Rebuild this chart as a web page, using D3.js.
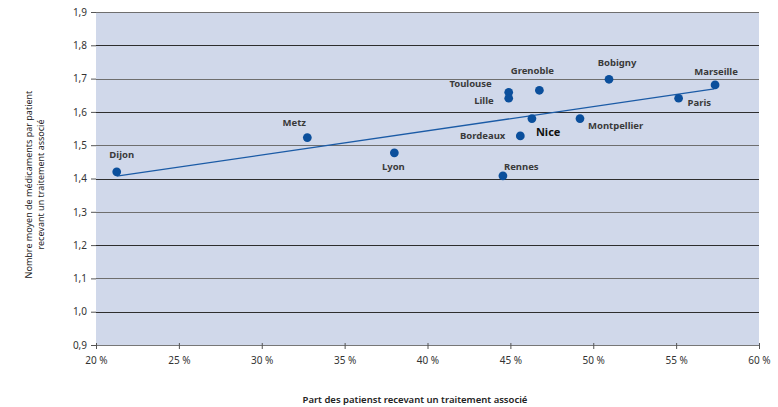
<!DOCTYPE html>
<html>
<head>
<meta charset="utf-8">
<script src="https://cdn.jsdelivr.net/npm/d3@7"></script>
<style>
  body { margin: 0; background: #fff; }
  text { font-family: "Noto Sans", sans-serif; }
</style>
</head>
<body>
<svg width="778" height="407"></svg>
<script>
// data
var cities = ["Dijon", "Metz", "Lyon", "Rennes", "Toulouse", "Lille", "Bordeaux", "Nice",
    "Grenoble", "Montpellier", "Bobigny", "Paris", "Marseille"];
var share = [21.25, 32.75, 38.0, 44.55, 44.9, 44.9, 45.6, 46.3, 46.75, 49.2, 50.95, 55.15, 57.35];
var drugs = [1.42, 1.523, 1.477, 1.408, 1.659, 1.641, 1.528, 1.58, 1.665, 1.58, 1.698, 1.641, 1.681];
var trendX = [21.25, 57.3];
var trendY = [1.407, 1.669];
var xTicks = [20, 25, 30, 35, 40, 45, 50, 55, 60];
var yTicks = [0.9, 1.0, 1.1, 1.2, 1.3, 1.4, 1.5, 1.6, 1.7, 1.8, 1.9];

// label placement: [dx, dy, anchor]
var labelPos = {
    Dijon: [5, -14, "middle"], Metz: [-13, -12, "middle"], Lyon: [-1, 17, "middle"],
    Rennes: [1, -6, "start"], Toulouse: [-17, -5, "end"], Lille: [-15, 6, "end"],
    Bordeaux: [-15, 3, "end"], Nice: [4, 17, "start"], Grenoble: [-7, -16, "middle"],
    Montpellier: [8, 10, "start"], Bobigny: [8, -13, "middle"], Paris: [9, 8, "start"],
    Marseille: [1, -10, "middle"]
};

var svg = d3.select("svg"),
    margin = {top: 12, right: 19, bottom: 62, left: 96},
    width = +svg.attr("width") - margin.left - margin.right,
    height = +svg.attr("height") - margin.top - margin.bottom;

var xScale = d3.scaleLinear().domain([20, 60]).range([0, width]);
var yScale = d3.scaleLinear().domain([0.9, 1.9]).range([height, 0]);

var g = svg.append("g")
    .attr("transform", "translate(" + margin.left + "," + margin.top + ")");

// plot background
g.append("rect")
    .attr("width", width)
    .attr("height", height)
    .attr("fill", "#d0d8ea");

// gridlines
g.append("g")
    .selectAll("line")
    .data(yTicks)
    .enter().append("line")
    .attr("x1", 0)
    .attr("x2", width)
    .attr("y1", function (d) { return Math.round(yScale(d)) + 0.5; })
    .attr("y2", function (d) { return Math.round(yScale(d)) + 0.5; })
    .attr("stroke", function (d, i) { return i % 2 ? "#2e2e2e" : "#6e6e6e"; })
    .attr("stroke-width", 1.2);

// y axis
var yAxis = g.append("g")
    .call(d3.axisLeft(yScale).tickValues(yTicks).tickSize(5).tickPadding(4)
        .tickFormat(function (d) { return d3.format(".1f")(d).replace(".", ","); }));
yAxis.select(".domain").remove();
yAxis.selectAll("line").attr("stroke", "#555");
yAxis.selectAll("text").attr("fill", "#333").style("font-size", "10px");

// x axis
var xAxis = g.append("g")
    .attr("transform", "translate(0," + height + ")")
    .call(d3.axisBottom(xScale).tickValues(xTicks).tickSize(4).tickPadding(8)
        .tickFormat(function (d) { return d + "\u00a0%"; }));
xAxis.select(".domain").attr("stroke", "#777");
xAxis.selectAll("line").attr("stroke", "#555").attr("y1", -2);
xAxis.selectAll("text").attr("fill", "#333").style("font-size", "10px");

// trend line
g.append("line")
    .attr("x1", xScale(trendX[0]))
    .attr("y1", yScale(trendY[0]))
    .attr("x2", xScale(trendX[1]))
    .attr("y2", yScale(trendY[1]))
    .attr("stroke", "#1b5ba6")
    .attr("stroke-width", 1.3);

// points
g.selectAll(".pt")
    .data(cities)
    .enter().append("path")
    .attr("class", "pt")
    .attr("transform", function (d, i) {
        return "translate(" + [xScale(share[i]), yScale(drugs[i])] + ")";
    })
    .attr("d", d3.symbol().type(d3.symbolCircle).size(60))
    .attr("fill", "#0b4f9c");

// labels
g.selectAll(".lbl")
    .data(cities)
    .enter().append("text")
    .attr("class", "lbl")
    .attr("x", function (d, i) { return xScale(share[i]) + labelPos[d][0]; })
    .attr("y", function (d, i) { return yScale(drugs[i]) + labelPos[d][1]; })
    .attr("text-anchor", function (d) { return labelPos[d][2]; })
    .attr("fill", function (d) { return d === "Nice" ? "#111" : "#3a3a3a"; })
    .style("font-size", function (d) { return d === "Nice" ? "11px" : "9.5px"; })
    .style("font-weight", "bold")
    .text(function (d) { return d; });

// axis titles
svg.append("text")
    .attr("x", 415)
    .attr("y", 403)
    .attr("text-anchor", "middle")
    .attr("fill", "#222")
    .style("font-size", "9.5px")
    .style("font-weight", "600")
    .text("Part des patienst recevant un traitement associé");

var yt = svg.append("text")
    .attr("transform", "translate(32," + (margin.top + height / 2 + 6) + ") rotate(-90)")
    .attr("text-anchor", "middle")
    .attr("fill", "#222")
    .style("font-size", "9px");
yt.append("tspan").attr("x", 0).attr("dy", 0).text("Nombre moyen de médicaments par patient");
yt.append("tspan").attr("x", 0).attr("dy", 12).text("recevant un traitement associé");
</script>
</body>
</html>
